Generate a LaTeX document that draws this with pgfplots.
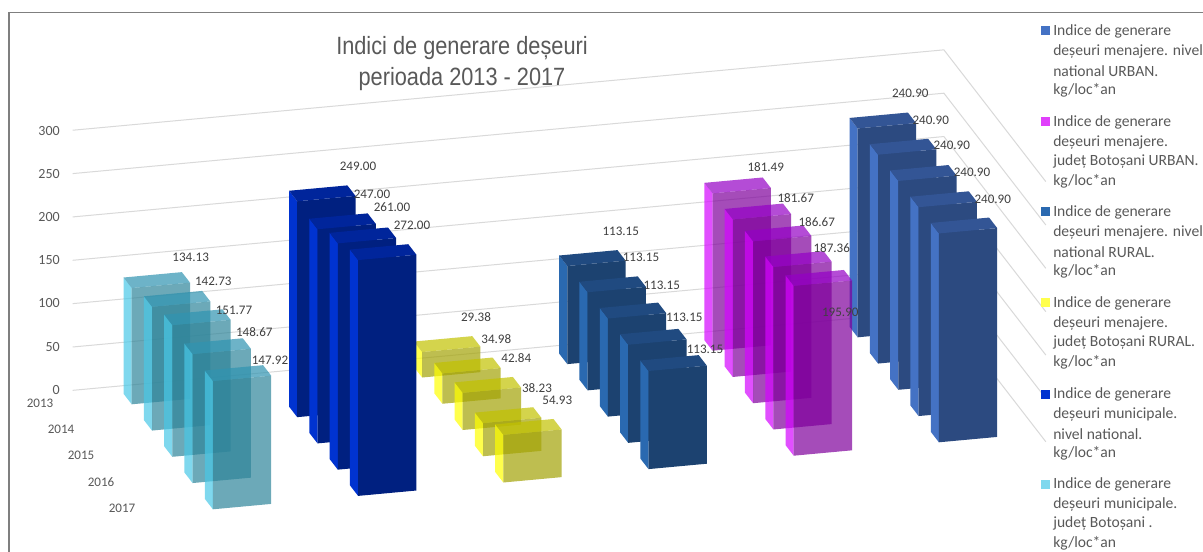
\documentclass[border=0pt]{standalone}
\usepackage{fontspec}
\setmainfont{Carlito}
\newfontfamily\titlefont{Liberation Sans}
\usepackage{pgfplots}
\pgfplotsset{compat=1.18}

% face colours: left, front, top of each bar
\definecolor{lbleft}{RGB}{73,200,231}
\definecolor{lbfront}{RGB}{47,133,154}
\definecolor{lbtop}{RGB}{48,148,177}
\definecolor{dbleft}{RGB}{0,51,208}
\definecolor{dbfront}{RGB}{0,32,128}
\definecolor{dbtop}{RGB}{0,37,155}
\definecolor{yeleft}{RGB}{255,255,0}
\definecolor{yefront}{RGB}{163,163,6}
\definecolor{yetop}{RGB}{194,194,0}
\definecolor{nvleft}{RGB}{42,105,176}
\definecolor{nvfront}{RGB}{28,66,112}
\definecolor{nvtop}{RGB}{32,74,128}
\definecolor{mgleft}{RGB}{213,5,255}
\definecolor{mgfront}{RGB}{127,0,156}
\definecolor{mgtop}{RGB}{149,0,198}
\definecolor{urleft}{RGB}{68,114,196}
\definecolor{urfront}{RGB}{44,74,128}
\definecolor{urtop}{RGB}{51,85,149}
\definecolor{gridc}{RGB}{217,217,217}
\definecolor{txt}{RGB}{89,89,89}
\definecolor{lab}{RGB}{64,64,64}
\definecolor{framec}{RGB}{127,127,127}
\definecolor{lgmg}{RGB}{224,64,251}
\definecolor{lgye}{RGB}{255,255,77}
\definecolor{lglb}{RGB}{127,216,238}

% series position, year position, value, colour prefix, opacity
\newcommand{\onebar}[5]{%
  \pgfmathsetmacro{\xr}{#1+0.4015}%
  \pgfmathsetmacro{\yb}{#2-0.4}%
  \addplot3[draw=none, fill=#4left, fill opacity=#5] coordinates {(#1,#2,0) (#1,\yb,0) (#1,\yb,#3) (#1,#2,#3) (#1,#2,0)};
  \addplot3[draw=none, fill=#4front, fill opacity=#5] coordinates {(#1,#2,0) (\xr,#2,0) (\xr,#2,#3) (#1,#2,#3) (#1,#2,0)};
  \addplot3[draw=none, fill=#4top, fill opacity=#5] coordinates {(#1,#2,#3) (\xr,#2,#3) (\xr,\yb,#3) (#1,\yb,#3) (#1,#2,#3)};
}
\newcommand{\gline}[1]{%
  \addplot3[gridc, line width=0.75pt] coordinates {(-0.31,-0.69,#1) (5.69,-0.69,#1) (5.69,4.33,#1)};
}
\newcommand{\lgitem}[6]{% y of first line, colour, four lines
  \fill[#2] (1041,#1-4.5) rectangle (1050,#1+4.5);
  \node[anchor=west, inner sep=0pt, text=txt, font=\fontsize{11.7pt}{14pt}\selectfont] at (1053,#1+0.6) {#3};
  \node[anchor=west, inner sep=0pt, text=txt, font=\fontsize{11.7pt}{14pt}\selectfont] at (1053,#1+20.3) {#4};
  \node[anchor=west, inner sep=0pt, text=txt, font=\fontsize{11.7pt}{14pt}\selectfont] at (1053,#1+40) {#5};
  \node[anchor=west, inner sep=0pt, text=txt, font=\fontsize{11.7pt}{14pt}\selectfont] at (1053,#1+59.7) {#6};
}

\begin{document}
\begin{tikzpicture}
\useasboundingbox (0,0) rectangle (902.25pt,-414pt);
\fill[white] (0,0) rectangle (902.25pt,-414pt);

\begin{axis}[
    at={(98.775pt,-303.225pt)}, anchor=origin,
    hide axis, clip=false,
    x={(108.9pt,10.05pt)}, y={(15.225pt,-19.6875pt)}, z={(0pt,0.65025pt)},
    xmin=-0.31, xmax=5.69, ymin=-0.69, ymax=4.33, zmin=0, zmax=300,
    every axis plot/.append style={forget plot, mark=none},
]
\gline{0} \gline{50} \gline{100} \gline{150} \gline{200} \gline{250} \gline{300}
% 2013
\onebar{0}{0}{134.13}{lb}{0.7}
\onebar{2}{0}{29.38}{ye}{0.7}
\onebar{3}{0}{113.15}{nv}{1}
\onebar{4}{0}{181.49}{mg}{0.7}
\onebar{5}{0}{240.90}{ur}{1}
% 2014
\onebar{0}{1}{142.73}{lb}{0.7}
\onebar{1}{1}{249.00}{db}{1}
\onebar{2}{1}{34.98}{ye}{0.7}
\onebar{3}{1}{113.15}{nv}{1}
\onebar{4}{1}{181.67}{mg}{0.7}
\onebar{5}{1}{240.90}{ur}{1}
% 2015
\onebar{0}{2}{151.77}{lb}{0.7}
\onebar{1}{2}{247.00}{db}{1}
\onebar{2}{2}{42.84}{ye}{0.7}
\onebar{3}{2}{113.15}{nv}{1}
\onebar{4}{2}{186.67}{mg}{0.7}
\onebar{5}{2}{240.90}{ur}{1}
% 2016
\onebar{0}{3}{148.67}{lb}{0.7}
\onebar{1}{3}{261.00}{db}{1}
\onebar{2}{3}{38.23}{ye}{0.7}
\onebar{3}{3}{113.15}{nv}{1}
\onebar{4}{3}{187.36}{mg}{0.7}
\onebar{5}{3}{240.90}{ur}{1}
% 2017
\onebar{0}{4}{147.92}{lb}{0.7}
\onebar{1}{4}{272.00}{db}{1}
\onebar{2}{4}{54.93}{ye}{0.7}
\onebar{3}{4}{113.15}{nv}{1}
\onebar{4}{4}{195.90}{mg}{0.7}
\onebar{5}{4}{240.90}{ur}{1}
\end{axis}

% everything below is placed in reference pixels
\begin{scope}[x=0.75pt, y=-0.75pt]
\draw[framec, line width=1.1pt] (9,12.5) rectangle (1300,700);

\node[text=txt, font=\titlefont\fontsize{18.75pt}{22pt}\selectfont, xscale=0.87, inner sep=0pt] at (462,48) {Indici de generare deșeuri};
\node[text=txt, font=\titlefont\fontsize{18.75pt}{22pt}\selectfont, xscale=0.87, inner sep=0pt] at (462,79) {perioada 2013 - 2017};

\foreach \v/\yy in {300/131, 250/174, 200/217, 150/260, 100/303, 50/347, 0/390}
  \node[anchor=east, inner sep=0pt, text=txt, font=\fontsize{10.5pt}{12pt}\selectfont] at (60,\yy) {\v};
\foreach \v/\xx/\yy in {2013/40/403, 2014/61/429, 2015/81/455, 2016/101/482, 2017/122/508}
  \node[inner sep=0pt, text=txt, font=\fontsize{9.8pt}{12pt}\selectfont] at (\xx,\yy) {\v};

\foreach \v/\xx/\yy in {
  134.13/190.7/257.7, 142.73/213.3/281.7, 151.77/234/310.7, 148.67/254.3/332, 147.92/270/360.7,
  249.00/358/166, 247.00/372/194, 261.00/392/207, 272.00/412/225,
  29.38/476/317, 34.98/496.3/339, 42.84/516.3/358, 38.23/537/387.7, 54.93/557.3/400,
  113.15/620.7/231, 113.15/641/257.7, 113.15/661.7/285.7, 113.15/684.3/317, 113.15/705/349,
  181.49/765.7/167, 181.67/795.7/197.7, 186.67/816.7/222, 187.36/831.7/247.7, 195.90/840.3/312.7,
  240.90/910.3/93.7, 240.90/930.7/120, 240.90/951.7/145.7, 240.90/972/172.7, 240.90/992.7/199}
  \node[inner sep=0pt, text=lab, font=\fontsize{9.8pt}{12pt}\selectfont] at (\xx,\yy) {\v};

\lgitem{31}{urleft}{Indice de generare}{deșeuri menajere. nivel}{national URBAN.}{kg/loc*an}
\lgitem{122}{lgmg}{Indice de generare}{deșeuri menajere.}{județ Botoșani URBAN.}{kg/loc*an}
\lgitem{212}{nvleft}{Indice de generare}{deșeuri menajere. nivel}{national RURAL.}{kg/loc*an}
\lgitem{303}{lgye}{Indice de generare}{deșeuri menajere.}{județ Botoșani RURAL.}{kg/loc*an}
\lgitem{394}{dbleft}{Indice de generare}{deșeuri municipale.}{nivel national.}{kg/loc*an}
\lgitem{484}{lglb}{Indice de generare}{deșeuri municipale.}{județ Botoșani .}{kg/loc*an}
\end{scope}
\end{tikzpicture}
\end{document}
